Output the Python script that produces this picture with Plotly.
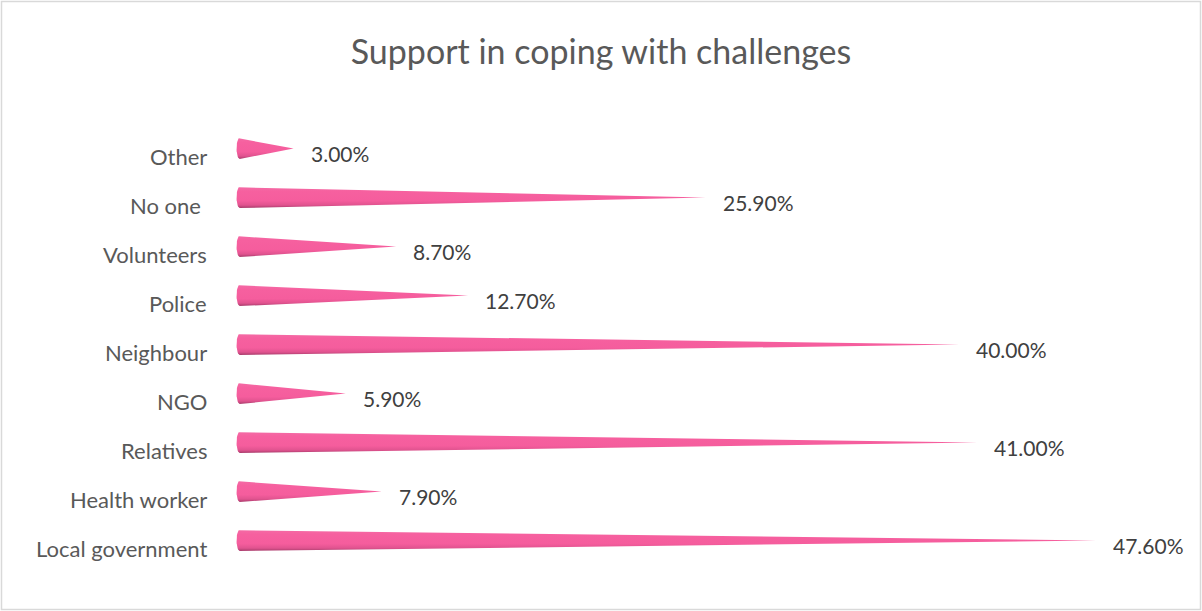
import numpy as np
import plotly.graph_objects as go

# Who people turned to for support (share of respondents, %)
categories = ["Local government", "Health worker", "Relatives", "NGO", "Neighbour",
              "Police", "Volunteers", "No one ", "Other"]
values = [47.6, 7.9, 41.0, 5.9, 40.0, 12.7, 8.7, 25.9, 3.0]
value_labels = ["47.60%", "7.90%", "41.00%", "5.90%", "40.00%",
                "12.70%", "8.70%", "25.90%", "3.00%"]

W, H = 1202, 611
M_L, M_R, M_T, M_B = 236, 27, 124, 46
X_MIN, X_MAX = -0.2, 52.0

HALF_H = 0.215      # cone base half-height, in category units
BASE_RX = 0.17      # depth of the rounded cone base, in x units
FONT = "Lato, sans-serif"

shade = [[0.0, "#a63b6a"], [0.14, "#e0538f"], [0.35, "#f55d9d"],
         [0.8, "#f6609f"], [1.0, "#f46aa5"]]

fig = go.Figure()

t = np.linspace(0, np.pi, 25)
for i, (cat, v) in enumerate(zip(categories, values)):
    # cone outline: tip on the right, elliptical base on the left
    bx = -BASE_RX * np.sin(t)
    by = i + HALF_H * np.cos(t)
    xs = np.concatenate([[v], bx, [v]])
    ys = np.concatenate([[i], by, [i]])
    fig.add_trace(go.Scatter(
        x=xs, y=ys, mode="lines", fill="toself",
        line=dict(width=0, color="rgba(0,0,0,0)"),
        fillgradient=dict(type="vertical", colorscale=shade),
        hoverinfo="skip", showlegend=False,
    ))
    # value label just past the tip
    fig.add_annotation(
        x=v, y=i, text=value_labels[i], showarrow=False,
        xanchor="left", yanchor="middle", xshift=15, yshift=-5,
        font=dict(family=FONT, size=21, color="#404040"),
    )
    # category label on the left
    fig.add_annotation(
        x=0, xref="paper", y=i, text=cat, showarrow=False,
        xanchor="right", yanchor="middle", xshift=-27, yshift=-8,
        font=dict(family=FONT, size=22, color="#595959"),
    )

pw = W - M_L - M_R
ph = H - M_T - M_B
# thin outer frame around the whole chart
fig.add_shape(
    type="rect", xref="paper", yref="paper",
    x0=(1.5 - M_L) / pw, x1=(W - 1.5 - M_L) / pw,
    y0=-(M_B - 1.5) / ph, y1=1 + (M_T - 1.5) / ph,
    line=dict(color="#d9d9d9", width=1.5), fillcolor="rgba(0,0,0,0)",
)

fig.update_layout(
    width=W, height=H,
    margin=dict(l=M_L, r=M_R, t=M_T, b=M_B),
    paper_bgcolor="white", plot_bgcolor="white",
    title=dict(text="Support in coping with challenges", x=0.5, xref="container",
               xanchor="center", y=1 - 52 / H, yanchor="middle",
               font=dict(family=FONT, size=34, color="#595959")),
    xaxis=dict(range=[X_MIN, X_MAX], visible=False, fixedrange=True),
    yaxis=dict(range=[-0.5, len(categories) - 0.5], visible=False, fixedrange=True),
)

fig.write_html("out.html")
